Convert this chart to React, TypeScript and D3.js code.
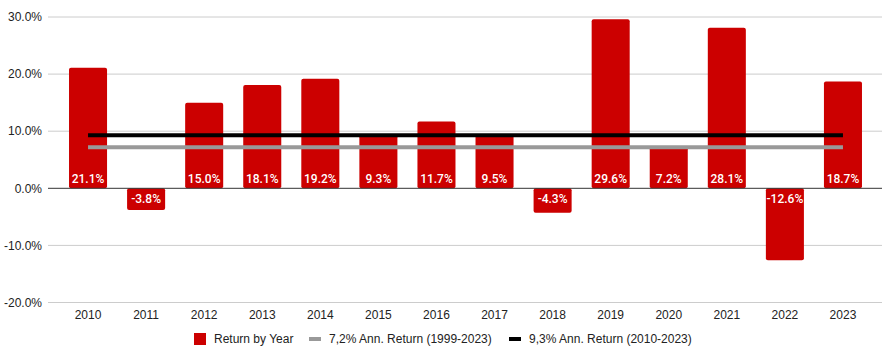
import { scaleBand, scaleLinear } from "d3";

const WIDTH = 886;
const HEIGHT = 351;
const MARGIN = { top: 17, right: 14, bottom: 49, left: 59 };

const years = ["2010", "2011", "2012", "2013", "2014", "2015", "2016", "2017", "2018", "2019", "2020", "2021", "2022", "2023"];
const returns = [21.1, -3.8, 15.0, 18.1, 19.2, 9.3, 11.7, 9.5, -4.3, 29.6, 7.2, 28.1, -12.6, 18.7];
const yTicks = [30, 20, 10, 0, -10, -20];
const longAvg = 7.2;
const recentAvg = 9.3;

const legendItems = [
  { label: "Return by Year", kind: "box", color: "#cc0000", x: 194 },
  { label: "7,2% Ann. Return (1999-2023)", kind: "line", color: "#999999", x: 309 },
  { label: "9,3% Ann. Return (2010-2023)", kind: "line", color: "#000000", x: 509 }
];

const FONT = "Arial, 'Liberation Sans', sans-serif";

export default function App() {
  const x = scaleBand<string>()
    .domain(years)
    .range([MARGIN.left, WIDTH - MARGIN.right])
    .paddingInner(0.345)
    .paddingOuter(0.1725);
  const y = scaleLinear().domain([30, -20]).range([MARGIN.top, 302.5]);
  const gridX1 = 48;
  const gridX2 = 882;
  const lineX1 = (x(years[0]) ?? 0) + x.bandwidth() / 2;
  const lineX2 = (x(years[years.length - 1]) ?? 0) + x.bandwidth() / 2;
  const zero = y(0);

  return (
    <svg width={WIDTH} height={HEIGHT} style={{ position: "absolute", left: 0, top: 0, background: "#fff" }}>
      {yTicks.map((t) => (
        <g key={t}>
          {t !== 0 && <line x1={gridX1} x2={gridX2} y1={y(t)} y2={y(t)} stroke="#cccccc" strokeWidth={1} />}
          <text x={42} y={y(t)} dy="0.35em" textAnchor="end" fontFamily={FONT} fontSize={12} fill="#222">
            {t.toFixed(1)}%
          </text>
        </g>
      ))}
      {returns.map((v, i) => {
        const bx = x(years[i]) ?? 0;
        const top = Math.min(y(v), zero);
        const h = Math.abs(y(v) - zero);
        return <rect key={years[i]} x={bx} y={top} width={x.bandwidth()} height={h} rx={2} fill="#cc0000" />;
      })}
      <line x1={gridX1} x2={gridX2} y1={zero} y2={zero} stroke="#333333" strokeWidth={1} />
      <line x1={lineX1} x2={lineX2} y1={y(longAvg)} y2={y(longAvg)} stroke="#999999" strokeWidth={4} />
      <line x1={lineX1} x2={lineX2} y1={y(recentAvg)} y2={y(recentAvg)} stroke="#000000" strokeWidth={4} />
      {returns.map((v, i) => {
        const cx = (x(years[i]) ?? 0) + x.bandwidth() / 2;
        return (
          <text key={years[i]} x={cx} y={v >= 0 ? zero - 5.5 : zero + 15} textAnchor="middle" fontFamily="Roboto, sans-serif" fontWeight={500} fontSize={12} fill="#ffffff">
            {v.toFixed(1)}%
          </text>
        );
      })}
      {years.map((yr) => (
        <text key={yr} x={(x(yr) ?? 0) + x.bandwidth() / 2} y={315} dy="0.35em" textAnchor="middle" fontFamily={FONT} fontSize={12} fill="#222">
          {yr}
        </text>
      ))}
      {legendItems.map((item) => (
        <g key={item.label}>
          {item.kind === "box" ? (
            <rect x={item.x} y={333} width={12} height={12} fill={item.color} />
          ) : (
            <line x1={item.x} x2={item.x + 12} y1={339} y2={339} stroke={item.color} strokeWidth={4} />
          )}
          <text x={item.x + 20} y={339} dy="0.35em" fontFamily={FONT} fontSize={12} fill="#222">
            {item.label}
          </text>
        </g>
      ))}
    </svg>
  );
}
